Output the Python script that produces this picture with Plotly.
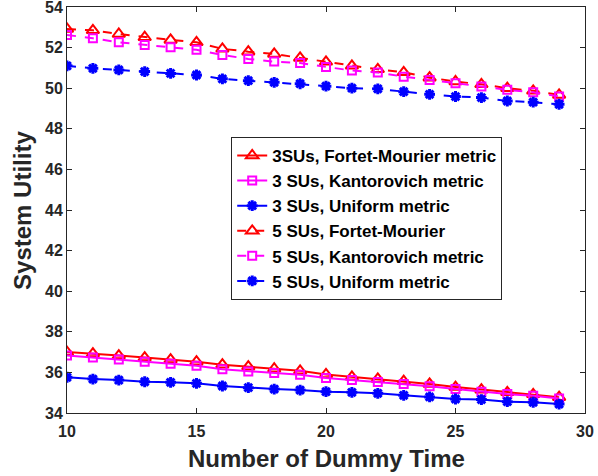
import plotly.graph_objects as go

dummy_time = list(range(10, 30))

su3_fortet = [37.00, 36.93, 36.83, 36.73, 36.63, 36.53, 36.38, 36.28, 36.18, 36.08,
              35.90, 35.78, 35.68, 35.57, 35.43, 35.28, 35.15, 35.02, 34.92, 34.78]
su3_kantor = [36.83, 36.73, 36.63, 36.52, 36.43, 36.33, 36.15, 36.05, 35.97, 35.88,
              35.72, 35.62, 35.53, 35.43, 35.32, 35.18, 35.05, 34.93, 34.85, 34.71]
su3_uniform = [35.76, 35.67, 35.62, 35.54, 35.51, 35.46, 35.33, 35.25, 35.18, 35.13,
               35.05, 35.02, 34.97, 34.87, 34.79, 34.69, 34.66, 34.56, 34.53, 34.44]

su5_fortet = [52.92, 52.85, 52.67, 52.51, 52.38, 52.26, 51.94, 51.80, 51.69, 51.49,
              51.30, 51.10, 50.93, 50.78, 50.52, 50.33, 50.19, 50.00, 49.87, 49.67]
su5_kantor = [52.62, 52.46, 52.26, 52.13, 52.02, 51.89, 51.64, 51.44, 51.31, 51.24,
              51.05, 50.87, 50.77, 50.57, 50.41, 50.24, 50.08, 49.92, 49.80, 49.59]
su5_uniform = [51.10, 50.98, 50.90, 50.82, 50.73, 50.65, 50.46, 50.37, 50.29, 50.22,
               50.10, 50.00, 49.97, 49.83, 49.70, 49.59, 49.54, 49.37, 49.31, 49.21]

names = ["3SUs, Fortet-Mourier metric", "3 SUs, Kantorovich metric",
         "3 SUs, Uniform metric", "5 SUs, Fortet-Mourier",
         "5 SUs, Kantorovich metric", "5 SUs, Uniform metric"]

RED = "#ff0000"
MAG = "#ff00ff"
BLUE = "#0000ff"

series = [
    (su3_fortet, RED, "solid", "triangle-up-open", 11),
    (su3_kantor, MAG, "solid", "square-open", 8),
    (su3_uniform, BLUE, "solid", "asterisk-open", 9),
    (su5_fortet, RED, "dash", "triangle-up-open", 11),
    (su5_kantor, MAG, "dash", "square-open", 8),
    (su5_uniform, BLUE, "dash", "asterisk-open", 9),
]

fig = go.Figure()
for (vals, color, dash, symbol, size), name in zip(series, names):
    fig.add_trace(go.Scatter(
        x=dummy_time, y=vals, name=name, mode="lines+markers",
        line=dict(color=color, width=2, dash=dash),
        marker=dict(symbol=symbol, size=size, color=color,
                    line=dict(color=color, width=2 if "asterisk" not in symbol else 3)),
    ))

axis_font = dict(family="Liberation Sans", size=16, color="#262626", weight="bold")
title_font = dict(family="Liberation Sans", size=24, color="#262626", weight="bold")

# axis titles placed as paper-anchored annotations for exact positioning
fig.add_annotation(text="Number of Dummy Time", xref="paper", yref="paper",
                   x=0.5, y=-0.075, xanchor="center", yanchor="top",
                   showarrow=False, font=title_font)
fig.add_annotation(text="System Utility", xref="paper", yref="paper",
                   x=-0.087, y=0.5, xanchor="center", yanchor="middle",
                   textangle=-90, showarrow=False, font=title_font)

fig.update_layout(
    width=598, height=476,
    margin=dict(l=67, r=13, t=7, b=63),
    paper_bgcolor="white", plot_bgcolor="white",
    font=dict(family="Liberation Sans", color="#262626"),
    legend=dict(
        x=0.317, y=0.680, xanchor="left", yanchor="top",
        bgcolor="white", bordercolor="#262626", borderwidth=1,
        font=dict(family="Liberation Sans", size=17, color="#000000", weight="bold"),
        tracegroupgap=0, itemwidth=30,
    ),
    xaxis=dict(
        range=[10, 30], tickvals=[10, 15, 20, 25, 30],
        ticks="inside", ticklen=5, tickcolor="#262626",
        showline=True, linecolor="#262626", linewidth=1, mirror="ticks",
        showgrid=False, zeroline=False, tickfont=axis_font,
        ticklabeloverflow="allow", automargin=False, ticklabelstandoff=4,
    ),
    yaxis=dict(
        range=[34, 54], tickvals=list(range(34, 55, 2)),
        ticks="inside", ticklen=5, tickcolor="#262626",
        showline=True, linecolor="#262626", linewidth=1, mirror="ticks",
        showgrid=False, zeroline=False, tickfont=axis_font,
        ticklabeloverflow="allow", automargin=False,
    ),
)

fig.write_html("out.html")
